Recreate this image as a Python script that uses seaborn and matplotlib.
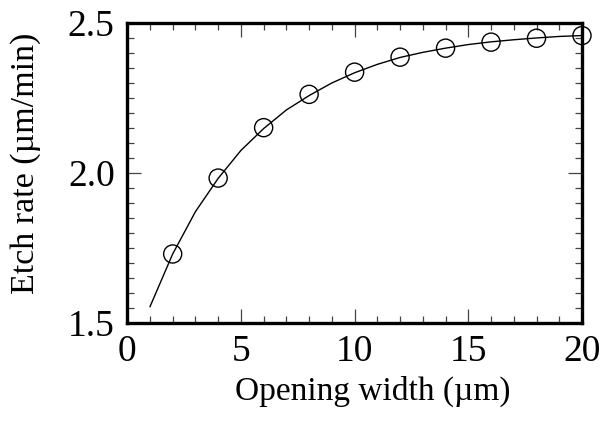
import numpy as np
import pandas as pd
import seaborn as sns
from matplotlib import pyplot as plt
from matplotlib.ticker import MultipleLocator

# datos medidos (circulos)
width_pts = [2, 4, 6, 8, 10, 12, 14, 16, 18, 20]
rate_pts = [1.730, 1.983, 2.151, 2.262, 2.336, 2.386, 2.416, 2.436, 2.449, 2.458]

# curva ajustada
width_fit = [1, 2, 3, 4, 5, 6, 7, 8, 9, 10, 11, 12, 13, 14, 15, 16, 17, 18, 19, 20]
rate_fit = [1.554, 1.730, 1.871, 1.982, 2.075, 2.148, 2.210, 2.258, 2.300, 2.334,
            2.362, 2.385, 2.402, 2.416, 2.428, 2.437, 2.444, 2.450, 2.455, 2.458]

pts = pd.DataFrame({'width': width_pts, 'rate': rate_pts})
fit = pd.DataFrame({'width': width_fit, 'rate': rate_fit})

sns.set_style("ticks", {'text.color': 'black', 'axes.labelcolor': 'black',
                        'xtick.color': 'black', 'ytick.color': 'black'})
plt.rcParams['font.family'] = ['Liberation Serif', 'DejaVu Serif']

fig, ax = plt.subplots(figsize=(6, 4.25), dpi=100)
fig.subplots_adjust(left=0.212, right=0.97, top=0.946, bottom=0.24)

sns.lineplot(data=fit, x='width', y='rate', color='black', linewidth=1.0, ax=ax)
sns.scatterplot(data=pts, x='width', y='rate', marker='o', s=170,
                facecolor='none', edgecolor='black', linewidth=1.0,
                ax=ax, clip_on=False, zorder=5)

ax.set_xlim(0, 20)
ax.set_ylim(1.5, 2.5)
ax.xaxis.set_major_locator(MultipleLocator(5))
ax.xaxis.set_minor_locator(MultipleLocator(1))
ax.yaxis.set_major_locator(MultipleLocator(0.5))
ax.yaxis.set_minor_locator(MultipleLocator(0.05))
ax.yaxis.set_major_formatter(plt.FormatStrFormatter('%.1f'))

ax.tick_params(which='both', direction='in', top=True, right=True,
               color='#444444', labelcolor='black', width=0.9, labelsize=27)
ax.tick_params(axis='x', pad=8)
ax.tick_params(axis='y', pad=9)
ax.tick_params(which='major', length=10)
ax.tick_params(which='minor', length=5)
for s in ax.spines.values():
    s.set_linewidth(2.4)
    s.set_color('black')

ax.set_xlabel('Opening width (µm)', fontsize=24, color='black')
ax.set_ylabel('Etch rate (µm/min)', fontsize=24.5, color='black')
# posicion de las etiquetas como en el original
ax.xaxis.set_label_coords(0.54, -0.177)
ax.yaxis.set_label_coords(-0.19, 0.533)

plt.savefig('out.png', dpi=100)
